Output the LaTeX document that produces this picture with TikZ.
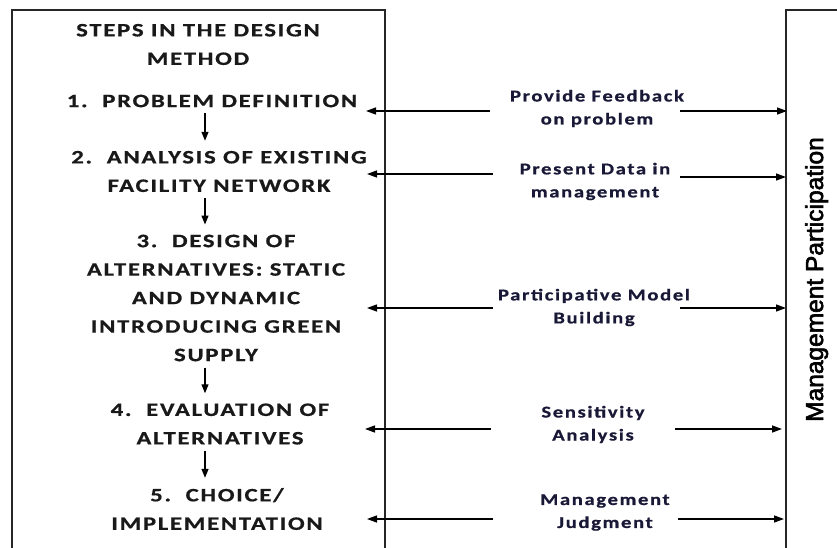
\documentclass[tikz,border=0pt]{standalone}
\usepackage{fontspec}
\setmainfont{Carlito}[BoldFeatures={FakeBold=0.6}]
\newfontfamily\arialfont{Liberation Sans}[FakeBold=2.5]
\usetikzlibrary{arrows.meta}
\begin{document}
\begin{tikzpicture}[x=1pt,y=-1pt,
  frame/.style={line width=1.5pt, black!85},
  flow/.style={line width=1.3pt, -{Triangle[length=9pt,width=7pt]}},
  link/.style={line width=1.3pt, -{Triangle[length=10pt,width=7pt]}},
  steptext/.style={font=\fontsize{19}{28.5}\selectfont\bfseries\addfontfeature{LetterSpace=7},
    align=center, inner sep=0pt, text=black!90, xscale=1.3, transform shape},
  linktext/.style={font=\fontsize{16.5}{23}\selectfont\bfseries\addfontfeature{LetterSpace=8},
    align=center, inner sep=0pt, text={rgb,255:red,25;green,25;blue,55}, xscale=1.25, transform shape}
]
\useasboundingbox (0,0) rectangle (837,548);

% outer frames, both running past the page edge
\draw[frame] (12,560) -- (12,10) -- (385,10) -- (385,560);
\draw[frame] (786,560) -- (786,10) -- (850,10);

% vertical caption of the right frame
\node[rotate=90, anchor=base, inner sep=0pt, font=\arialfont\fontsize{24.5}{28}\selectfont]
  (mp) at (823,279.5) {Management Participation};

% steps of the design method
\node[steptext] (title) at (198,44.5) {STEPS IN THE DESIGN\\METHOD};
\node[steptext] (s1) at (212,101) {1.\ \ PROBLEM DEFINITION};
\node[steptext] (s2) at (219,171.5) {2.\ \ ANALYSIS OF EXISTING\\FACILITY NETWORK};
\node[steptext] (s3) at (216,298) {3.\ \ DESIGN OF\\ALTERNATIVES: STATIC\\AND DYNAMIC\\INTRODUCING GREEN\\SUPPLY};
\node[steptext] (s4) at (220,424) {4.\ \ EVALUATION OF\\ALTERNATIVES};
\node[steptext] (s5) at (217,509) {5.\ \ CHOICE/\\IMPLEMENTATION};

\coordinate (ax) at (205,0);
\foreach \a/\b in {s1/s2, s2/s3, s3/s4, s4/s5}
  \draw[flow, shorten <=6pt, shorten >=10pt] (\a.south -| ax) -- (\b.north -| ax);

% management participation links
\node[linktext] (r1) at (597,108.5) {Provide Feedback\\on problem};
\node[linktext] (r2) at (595,181.5) {Present Data in\\management};
\node[linktext] (r3) at (594,307.5) {Participative Model\\Building};
\node[linktext] (r4) at (593,424.5) {Sensitivity\\Analysis};
\node[linktext] (r5) at (605,512.5) {Management\\Judgment};

\coordinate (l1a) at (490,111);   \coordinate (l1b) at (366,111);
\coordinate (m1a) at (680,111);   \coordinate (m1b) at (787,111);
\coordinate (l2a) at (493,174);   \coordinate (l2b) at (367,174);
\coordinate (m2a) at (680,177);   \coordinate (m2b) at (786,177);
\coordinate (l3a) at (493,308);   \coordinate (l3b) at (367,308);
\coordinate (m3a) at (680,308);   \coordinate (m3b) at (786,308);
\coordinate (l4a) at (491,429);   \coordinate (l4b) at (365,429);
\coordinate (m4a) at (675,429);   \coordinate (m4b) at (782,429);
\coordinate (l5a) at (493,519);   \coordinate (l5b) at (367,519);
\coordinate (m5a) at (678,519);   \coordinate (m5b) at (784,519);

\foreach \i in {1,...,5} {
  \draw[link] (l\i a) -- (l\i b);
  \draw[link] (m\i a) -- (m\i b);
}
\end{tikzpicture}
\end{document}
